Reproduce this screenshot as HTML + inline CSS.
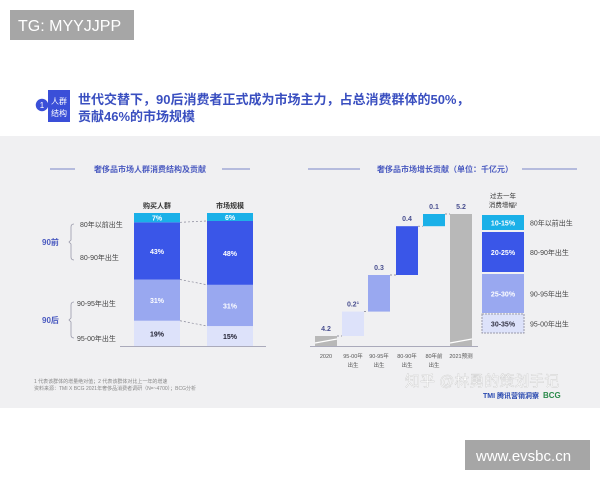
<!DOCTYPE html>
<html><head><meta charset="utf-8"><style>
body{margin:0;width:600px;height:480px;overflow:hidden;background:#fff;font-family:"Liberation Sans","Noto Sans CJK SC",sans-serif}
svg text{font-family:"Liberation Sans","Noto Sans CJK SC",sans-serif}
</style></head><body>
<svg width="600" height="480" viewBox="0 0 600 480">
<rect x="0" y="136" width="600" height="272" fill="#f0f0f2"/>
<rect x="10" y="10" width="124" height="30" fill="#a6a6a6"/>
<text x="18" y="31" font-size="16" fill="#fff">TG: MYYJJPP</text>
<circle cx="42" cy="105" r="7" fill="#3a4fd8" stroke="#fff" stroke-width="1.5"/>
<text x="42" y="108" font-size="8" fill="#fff" text-anchor="middle">1</text>
<rect x="48" y="90" width="22" height="32" fill="#3a4fd8"/>
<text x="59" y="104" font-size="8" fill="#fff" text-anchor="middle">人群</text>
<text x="59" y="116" font-size="8" fill="#fff" text-anchor="middle">结构</text>
<text x="78" y="104" font-size="13" font-weight="bold" fill="#3a4fc0">世代交替下，90后消费者正式成为市场主力，占总消费群体的50%，</text>
<text x="78" y="121" font-size="13" font-weight="bold" fill="#3a4fc0">贡献46%的市场规模</text>

<line x1="50" y1="169" x2="75" y2="169" stroke="#7a86c8"/>
<line x1="222" y1="169" x2="250" y2="169" stroke="#7a86c8"/>
<text x="150" y="172" font-size="8" font-weight="bold" fill="#4a5ac0" text-anchor="middle">奢侈品市场人群消费结构及贡献</text>
<line x1="308" y1="169" x2="360" y2="169" stroke="#7a86c8"/>
<line x1="522" y1="169" x2="577" y2="169" stroke="#7a86c8"/>
<text x="445" y="172" font-size="8" font-weight="bold" fill="#4a5ac0" text-anchor="middle">奢侈品市场增长贡献（单位：千亿元）</text>

<g id="left"></g>
<g id="right"></g>

<text x="34" y="383" font-size="5" fill="#888">1 代表该群体的增量绝对值；2 代表该群体对比上一年的增速</text>
<text x="34" y="390" font-size="5" fill="#888">资料来源：TMI X BCG 2021年奢侈品消费者调研（N=~4700）；BCG分析</text>
<text x="405" y="386" font-size="15" fill="#fff" stroke="#ccc" stroke-width="0.4">知乎 @林勇的策划手记</text>
<text x="483" y="398" font-size="7" font-weight="bold" fill="#2a4ab0">TMI 腾讯营销洞察</text>
<text x="543" y="398" font-size="8" font-weight="bold" fill="#2a8a4a">BCG</text>
<rect x="465" y="440" width="125" height="30" fill="#a6a6a6"/>
<text x="476" y="461" font-size="15" fill="#fff">www.evsbc.cn</text>
</svg>
<script>
const colors=["#dde2fa","#99a8f0","#3a56e8","#1ab0e8"];
const segLabels=["95-00年出生","90-95年出生","80-90年出生","80年以前出生"];
const buyers=[19,31,43,7];
const market=[15,31,48,6];
const colTitles=["购买人群","市场规模"];
const wfCats=["2020","95-00年\n出生","90-95年\n出生","80-90年\n出生","80年前\n出生","2021预测"];
const wfVals=[4.2,0.2,0.3,0.4,0.1,5.2];
const wfLabels=["4.2","0.2¹","0.3","0.4","0.1","5.2"];
const growth=["30-35%","25-30%","20-25%","10-15%"];
const NS="http://www.w3.org/2000/svg";
function mk(p,t,a,txt){const e=document.createElementNS(NS,t);for(const k in a)e.setAttribute(k,a[k]);if(txt!==undefined)e.textContent=txt;p.appendChild(e);return e;}
const L=document.getElementById('left'),R=document.getElementById('right');
const topY=213,botY=346,H=botY-topY;
const xs=[134,207],bw=46;
const yS=v=>botY-v/100*H;
mk(L,'line',{x1:120,y1:346.5,x2:266,y2:346.5,stroke:'#aab','stroke-width':1});
const bounds=[];
[buyers,market].forEach((arr,ci)=>{
 const tot=arr.reduce((a,b)=>a+b,0);let c=0;const b=[];
 mk(L,'text',{x:xs[ci]+bw/2,y:208,'font-size':7,'font-weight':'bold',fill:'#333','text-anchor':'middle'},colTitles[ci]);
 arr.forEach((v,i)=>{
  const y0=yS(c/tot*100),y1=yS((c+v)/tot*100);c+=v;b.push(y1);
  const r=mk(L,'rect',{x:xs[ci],y:y1,width:bw,height:y0-y1,fill:colors[i]});
  
  
  mk(L,'text',{x:xs[ci]+bw/2,y:(y0+y1)/2+3,'font-size':7,'font-weight':'bold',fill:i==0?'#223':'#fff','text-anchor':'middle'},v+'%');
 });
 bounds.push(b);
});
for(let i=0;i<3;i++)mk(L,'line',{x1:xs[0]+bw,y1:bounds[0][i],x2:xs[1],y2:bounds[1][i],stroke:'#889','stroke-dasharray':'2,2','stroke-width':0.7});
mk(L,'text',{x:80,y:227,'font-size':7,fill:'#444'},segLabels[3]);
mk(L,'text',{x:80,y:260,'font-size':7,fill:'#444'},segLabels[2]);
mk(L,'text',{x:77,y:306,'font-size':7,fill:'#444'},segLabels[1]);
mk(L,'text',{x:77,y:341,'font-size':7,fill:'#444'},segLabels[0]);
mk(L,'text',{x:42,y:245,'font-size':8,'font-weight':'bold',fill:'#4a5ac0'},'90前');
mk(L,'text',{x:42,y:323,'font-size':8,'font-weight':'bold',fill:'#4a5ac0'},'90后');
mk(L,'path',{d:'M74,224 q-3,0 -3,3 v13 l-2,2 l2,2 v13 q0,3 3,3',fill:'none',stroke:'#99a','stroke-width':0.8});
mk(L,'path',{d:'M74,302 q-3,0 -3,3 v13 l-2,2 l2,2 v13 q0,3 3,3',fill:'none',stroke:'#99a','stroke-width':0.8});
const baseY=346,ppu=122;
const yW=v=>336-(v-4.2)*ppu;
const wx=[315,342,368,396,423,450],ww=22;
mk(R,'line',{x1:310,y1:346.5,x2:478,y2:346.5,stroke:'#aab'});
let cumW=0;
const wcol=["#b8b8b8",colors[0],colors[1],colors[2],colors[3],"#b8b8b8"];
wfVals.forEach((v,i)=>{
 let y0,y1;
 if(i==0){y0=baseY;y1=yW(v);cumW=v;}
 else if(i==wfVals.length-1){y0=baseY;y1=yW(v);}
 else{y0=yW(cumW);y1=yW(cumW+v);cumW+=v;}
 const r=mk(R,'rect',{x:wx[i],y:y1,width:ww,height:y0-y1,fill:wcol[i]});
 
 
 if(i<wfVals.length-1){const nx=wx[i+1];mk(R,'line',{x1:wx[i]+ww,y1:y1,x2:nx,y2:y1,stroke:'#778','stroke-dasharray':'2,2','stroke-width':0.7});}
 mk(R,'text',{x:wx[i]+ww/2,y:y1-5,'font-size':7,'font-weight':'bold',fill:'#4a5090','text-anchor':'middle'},wfLabels[i]);
 wfCats[i].split('\n').forEach((s,k)=>mk(R,'text',{x:wx[i]+ww/2,y:358+k*9,'font-size':5.5,fill:'#555','text-anchor':'middle'},s));
});
mk(R,'line',{x1:wx[0],y1:343,x2:wx[0]+ww,y2:339,stroke:'#fff','stroke-width':1.2});
mk(R,'line',{x1:wx[5],y1:343,x2:wx[5]+ww,y2:339,stroke:'#fff','stroke-width':1.2});
mk(R,'text',{x:503,y:198,'font-size':6.5,fill:'#333','text-anchor':'middle'},'过去一年');
mk(R,'text',{x:503,y:207,'font-size':6.5,fill:'#333','text-anchor':'middle'},'消费增幅²');
const lb=[[314,333],[274,313],[232,272],[215,230]];
growth.forEach((g,i)=>{
 const r=mk(R,'rect',{x:482,y:lb[i][0],width:42,height:lb[i][1]-lb[i][0],fill:colors[i]});
 
 
 if(i==0){r.setAttribute('stroke','#99a');r.setAttribute('stroke-dasharray','2,1');}
 mk(R,'text',{x:503,y:(lb[i][0]+lb[i][1])/2+3,'font-size':7,'font-weight':'bold',fill:i==0?'#334':'#fff','text-anchor':'middle'},g);
 mk(R,'text',{x:530,y:(lb[i][0]+lb[i][1])/2+3,'font-size':7,fill:'#444'},segLabels[i]);
});
</script>
</body></html>
